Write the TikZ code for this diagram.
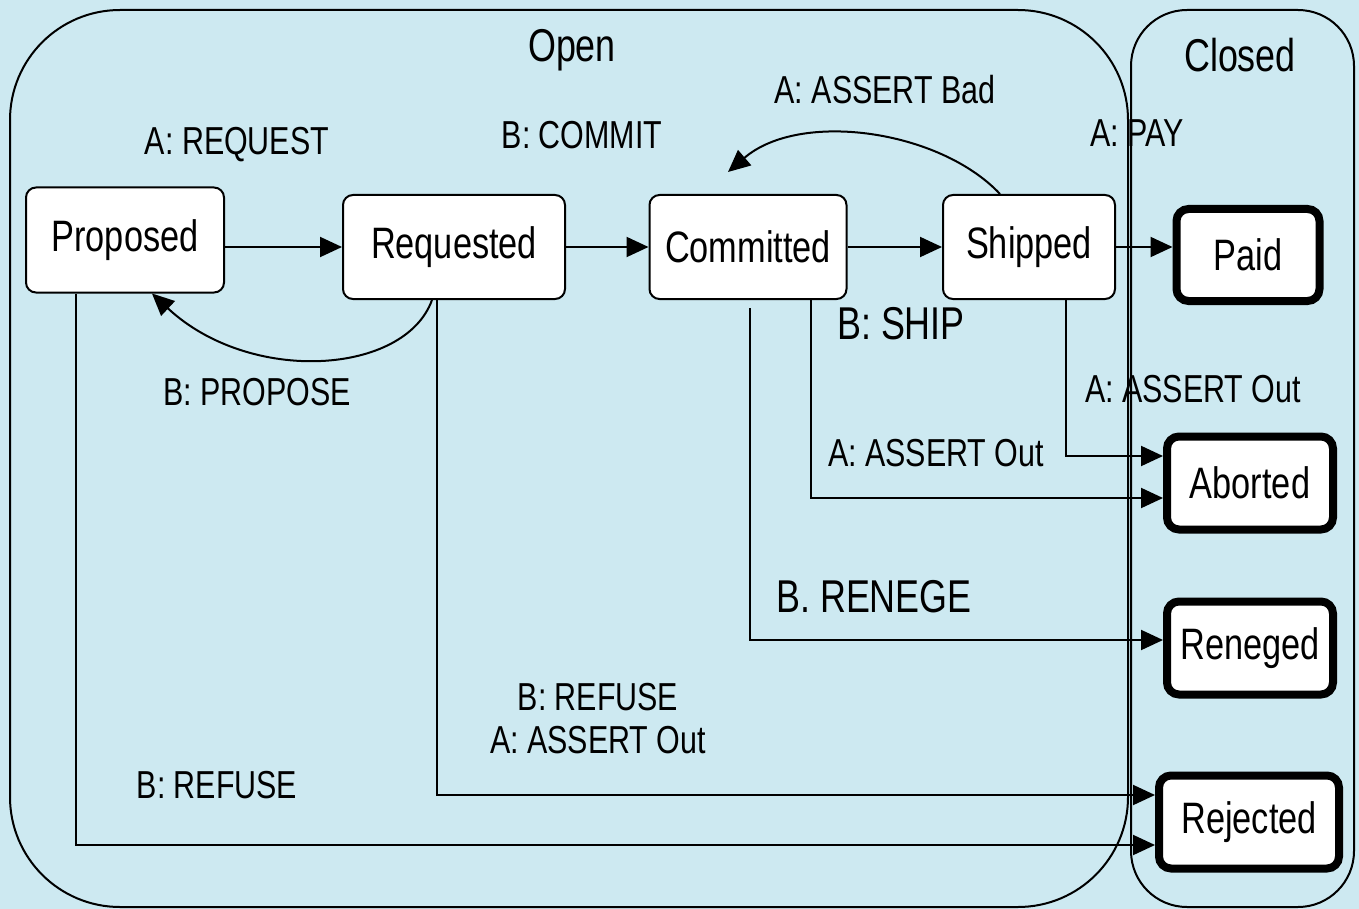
\documentclass[tikz,border=0pt]{standalone}
\usepackage{fontspec}
\setmainfont[FakeStretch=0.78]{Liberation Sans}
\usetikzlibrary{arrows.meta}
\definecolor{bg}{RGB}{205,233,241}
\begin{document}
\begin{tikzpicture}[x=0.5pt,y=-0.5pt,
 state/.style={draw, fill=white, line width=1pt, rounded corners=5pt, inner sep=0pt, font=\fontsize{22}{25}\selectfont},
 final/.style={draw, fill=white, line width=4pt, rounded corners=6pt, inner sep=0pt, font=\fontsize{22}{25}\selectfont},
 lbl/.style={inner sep=0pt, font=\fontsize{19.5}{21.5}\selectfont},
 biglbl/.style={inner sep=0pt, font=\fontsize{23}{26}\selectfont},
 group/.style={draw, line width=1pt},
 arr/.style={line width=1pt, -{Triangle[length=11pt,width=10pt]}},
]
\fill[bg] (0,0) rectangle (1359,909);
\useasboundingbox (0,0) rectangle (1359,909);
\draw[group, rounded corners=55pt] (10,10) rectangle (1128,907);
\draw[group, rounded corners=28pt] (1131,10) rectangle (1354,907);

\node[biglbl] (open) at (572,50) {Open};
\node[biglbl] (closed) at (1240,55) {Closed};

% states
\node[state, minimum width=99pt, minimum height=52.5pt] (prop) at (125,240) {Proposed};
\node[state, minimum width=111pt, minimum height=52pt] (req) at (454,247) {Requested};
\node[state, minimum width=98.5pt, minimum height=52pt] (com) at (748,247) {Committed};
\node[state, minimum width=86pt, minimum height=52pt] (ship) at (1029,247) {Shipped};
\node[final, minimum width=71.5pt, minimum height=46pt] (paid) at (1248,255) {Paid};
\node[final, minimum width=83pt, minimum height=46.5pt] (abort) at (1250,483) {Aborted};
\node[final, minimum width=83pt, minimum height=46.5pt] (reneg) at (1250,648) {Reneged};
\node[final, minimum width=90pt, minimum height=46.5pt] (rej) at (1249,822) {Rejected};

% helper coordinates
\coordinate (x76) at (76,0);
\coordinate (x152) at (152,0);
\coordinate (x432) at (432,0);
\coordinate (x437) at (437,0);
\coordinate (x750) at (750,0);
\coordinate (x811) at (811,0);
\coordinate (x1000) at (1000,0);
\coordinate (x1066) at (1066,0);
\coordinate (y456) at (0,456);
\coordinate (y498) at (0,498);
\coordinate (y640) at (0,640);
\coordinate (y795) at (0,795);
\coordinate (y845) at (0,845);
\coordinate (badend) at (728,172);

% main chain
\draw[arr] (prop.east |- req) -- (req.west);
\draw[arr] (req.east) -- (com.west);
\draw[arr] (com.east) -- (ship.west);
\draw[arr] (ship.east) -- (paid.west |- ship);

% curved arrows
\draw[arr] (req.south -| x432) .. controls (405,375) and (250,385) .. (prop.south -| x152);
\draw[arr] (ship.north -| x1000) .. controls (940,130) and (800,110) .. (badend);

% down-and-right connectors
\draw[arr] (prop.south -| x76) |- (rej.west |- y845);
\draw[arr] (req.south -| x437) |- (rej.west |- y795);
\draw[arr] ([yshift=-4pt]com.south -| x750) |- (reneg.west |- y640);
\draw[arr] (com.south -| x811) |- (abort.west |- y498);
\draw[arr] (ship.south -| x1066) |- (abort.west |- y456);

% labels
\node[lbl] (lreq) at (237,145) {A: REQUEST};
\node[lbl] (lcom) at (582,135) {B: COMMIT};
\node[lbl] (lbad) at (885,90) {A: ASSERT Bad};
\node[lbl] (lpay) at (1137,133) {A: PAY};
\node[biglbl] (lship) at (901,324) {B: SHIP};
\node[lbl] (lprop) at (257,392) {B: PROPOSE};
\node[lbl] (lout1) at (1193,389) {A: ASSERT Out};
\node[lbl] (lout2) at (936,453) {A: ASSERT Out};
\node[biglbl] (lren) at (874,597) {B. RENEGE};
\node[lbl, align=center] (lref1) at (598,719) {B: REFUSE\\A: ASSERT Out};
\node[lbl] (lref2) at (217,785) {B: REFUSE};
\end{tikzpicture}
\end{document}
